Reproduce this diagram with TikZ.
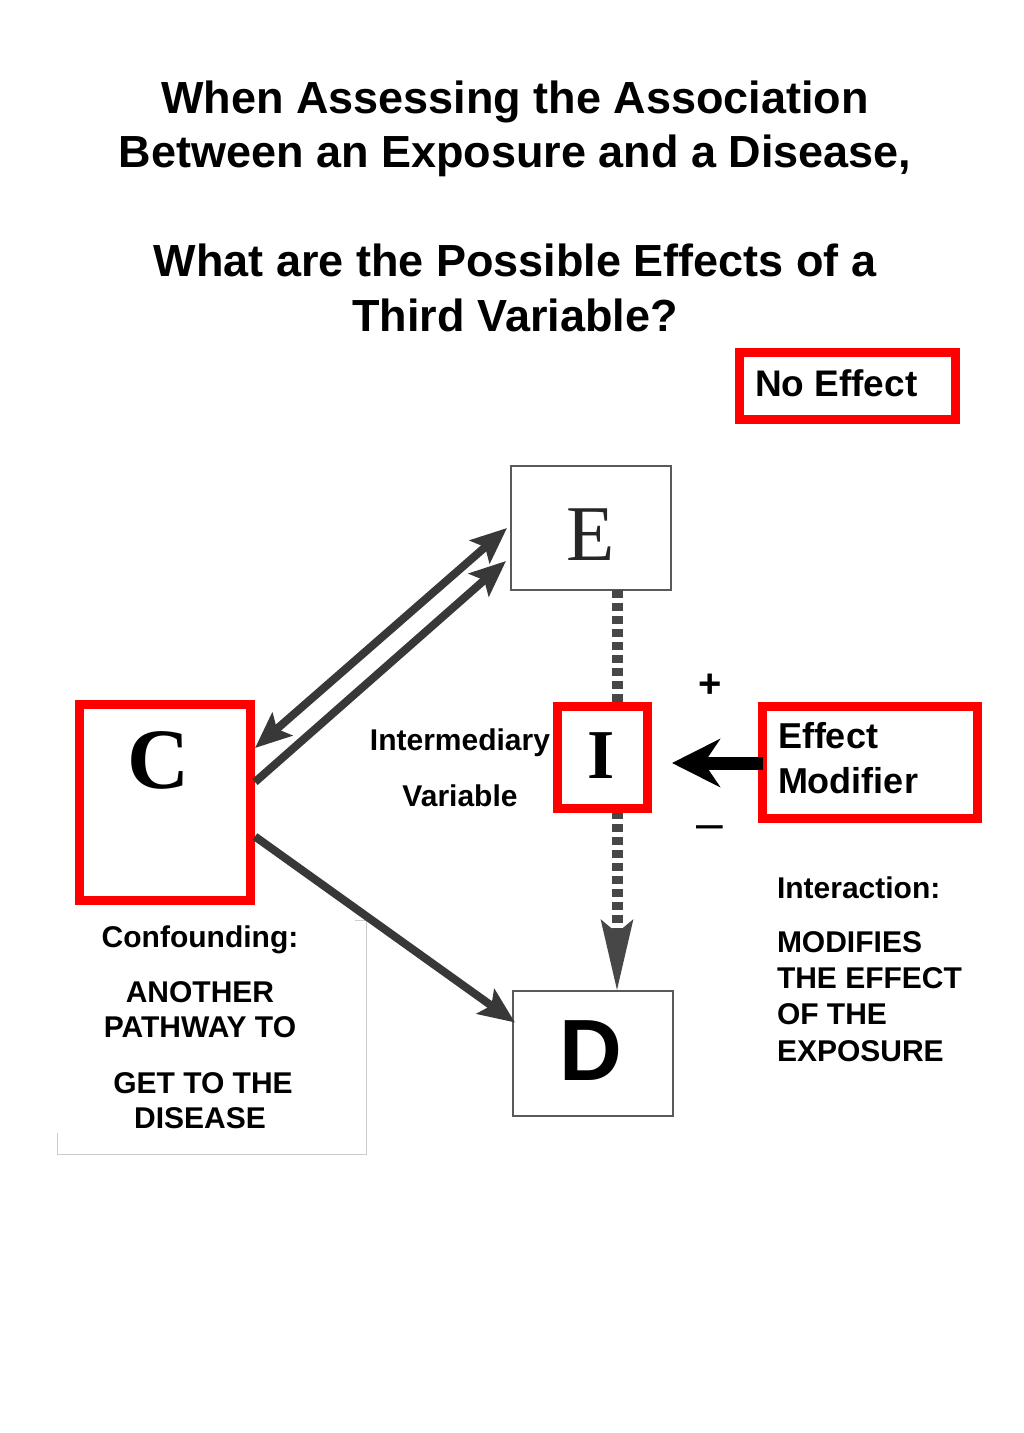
\documentclass[tikz,border=0pt]{standalone}
\usepackage{fontspec}
\setmainfont{Liberation Sans}
\newfontfamily\serifF{Liberation Serif}
\usetikzlibrary{arrows.meta,calc}
\newcommand\myfs[1]{\fontsize{#1}{#1}\selectfont}
\begin{document}
\begin{tikzpicture}[x=1pt,y=-1pt,
  redbox/.style={draw=red,line width=9pt,fill=white,inner sep=0pt,outer sep=0pt},
  thinbox/.style={draw=black!65,line width=1.2pt,fill=white,inner sep=0pt,outer sep=0pt},
  txt/.style={inner sep=0pt,outer sep=0pt,font=\bfseries\myfs{30}},
  ttl/.style={inner sep=0pt,outer sep=0pt,anchor=base,font=\bfseries\myfs{45}},
  ghead/.tip={Stealth[length=36pt,width=30pt,inset=7pt]},
  grayarrow/.style={draw=black!78,line width=8pt,-ghead},
  dasharrow/.style={draw=black!72,line width=11pt,dash pattern=on 8pt off 5pt,
     -{Stealth[length=70pt,width=31pt,inset=12pt]}},
  blackarrow/.style={draw=black,line width=13pt,-{Stealth[length=48pt,width=48pt,inset=16pt]}},
  faint/.style={draw=black!20,line width=1pt}]
\useasboundingbox[fill=white] (0,0) rectangle (1024,1433);

% title
\node[ttl] (t1) at (515,113) {When Assessing the Association};
\node[ttl] (t2) at (515,167) {Between an Exposure and a Disease,};
\node[ttl] (t3) at (515,276) {What are the Possible Effects of a};
\node[ttl] (t4) at (515,331) {Third Variable?};

% No Effect
\node[redbox,minimum width=216.5pt,minimum height=67pt] (NE) at (847.25,385.5) {};
\node[txt,anchor=base west,font=\bfseries\myfs{37}] (NEt) at (755,396) {No Effect};

% faint confounding frame
\coordinate (f1) at (57,1133);
\coordinate (f2) at (57,1154);
\coordinate (f3) at (366,1154);
\coordinate (f4) at (366,920);
\coordinate (f5) at (355,920);
\draw[faint] (f1) -- (f2) -- (f3) -- (f4) -- (f5);

% boxes
\node[thinbox,minimum width=160pt,minimum height=124pt] (E) at (591,528) {};
\node[thinbox,minimum width=160pt,minimum height=125pt] (D) at (593,1053.5) {};
\node[inner sep=0pt,anchor=base,text=black!85,font=\serifF\myfs{79}] (Elab) at (591,560) {E};
\node[inner sep=0pt,anchor=base,font=\bfseries\myfs{87}] (Dlab) at (591,1080) {D};

% dashed E -> D
\coordinate (Es) at ($(E.south)+(26,0)$);
\coordinate (Dn) at ($(D.north)+(24,0)$);
\draw[dasharrow] (Es) -- (Dn);

\node[redbox,minimum width=171pt,minimum height=196pt] (C) at (165,802.5) {};
\node[inner sep=0pt,anchor=base,font=\serifF\bfseries\myfs{86}] (Clab) at (159,788) {C};
\node[redbox,minimum width=90pt,minimum height=102pt] (I) at (602.5,757) {};
\node[inner sep=0pt,anchor=base,font=\serifF\bfseries\myfs{70}] (Ilab) at (601,778) {I};
\node[redbox,minimum width=215pt,minimum height=112pt] (EM) at (870,762) {};
\node[txt,anchor=base west,font=\bfseries\myfs{36}] (EMt1) at (778,748) {Effect};
\node[txt,anchor=base west,font=\bfseries\myfs{36}] (EMt2) at (778,793) {Modifier};

% gray arrows C <-> E, C -> D
\coordinate (Ca) at ($(C.north east)+(4.5,43.5)$);
\coordinate (Cb) at ($(C.north east)+(4.5,77.5)$);
\coordinate (Cc) at ($(C.north east)+(4.5,132)$);
\coordinate (Ea) at ($(E.west)+(-4,0)$);
\coordinate (Eb) at ($(E.west)+(-5,33)$);
\coordinate (Dw) at ($(D.west)+(2,-31)$);
\draw[grayarrow,ghead-ghead] (Ca) -- (Ea);
\draw[grayarrow] (Cb) -- (Eb);
\draw[grayarrow] (Cc) -- (Dw);

% effect modifier arrow
\coordinate (Ie) at ($(I.east)+(24.5,6)$);
\coordinate (EMw) at ($(EM.west)+(0,1)$);
\draw[blackarrow] (EMw) -- (Ie);

% signs
\node[inner sep=0pt,font=\bfseries\myfs{40}] (plus) at (710,686) {+};
\node[inner sep=0pt,font=\myfs{48}] (minus) at (709.5,833) {–};

% labels
\node[txt,anchor=base] (iv1) at (460,750) {Intermediary};
\node[txt,anchor=base] (iv2) at (460,806) {Variable};

\node[txt,anchor=base west] (in1) at (777,898) {Interaction:};
\node[txt,anchor=base west] (in2) at (777,952) {MODIFIES};
\node[txt,anchor=base west] (in3) at (777,988) {THE EFFECT};
\node[txt,anchor=base west] (in4) at (777,1024) {OF THE};
\node[txt,anchor=base west] (in5) at (777,1061) {EXPOSURE};

\node[txt,anchor=base] (cf1) at (200,947) {Confounding:};
\node[txt,anchor=base] (cf2) at (200,1002) {ANOTHER};
\node[txt,anchor=base] (cf3) at (200,1037) {PATHWAY TO};
\node[txt,anchor=base] (cf4) at (203,1093) {GET TO THE};
\node[txt,anchor=base] (cf5) at (200,1128) {DISEASE};
\end{tikzpicture}
\end{document}
